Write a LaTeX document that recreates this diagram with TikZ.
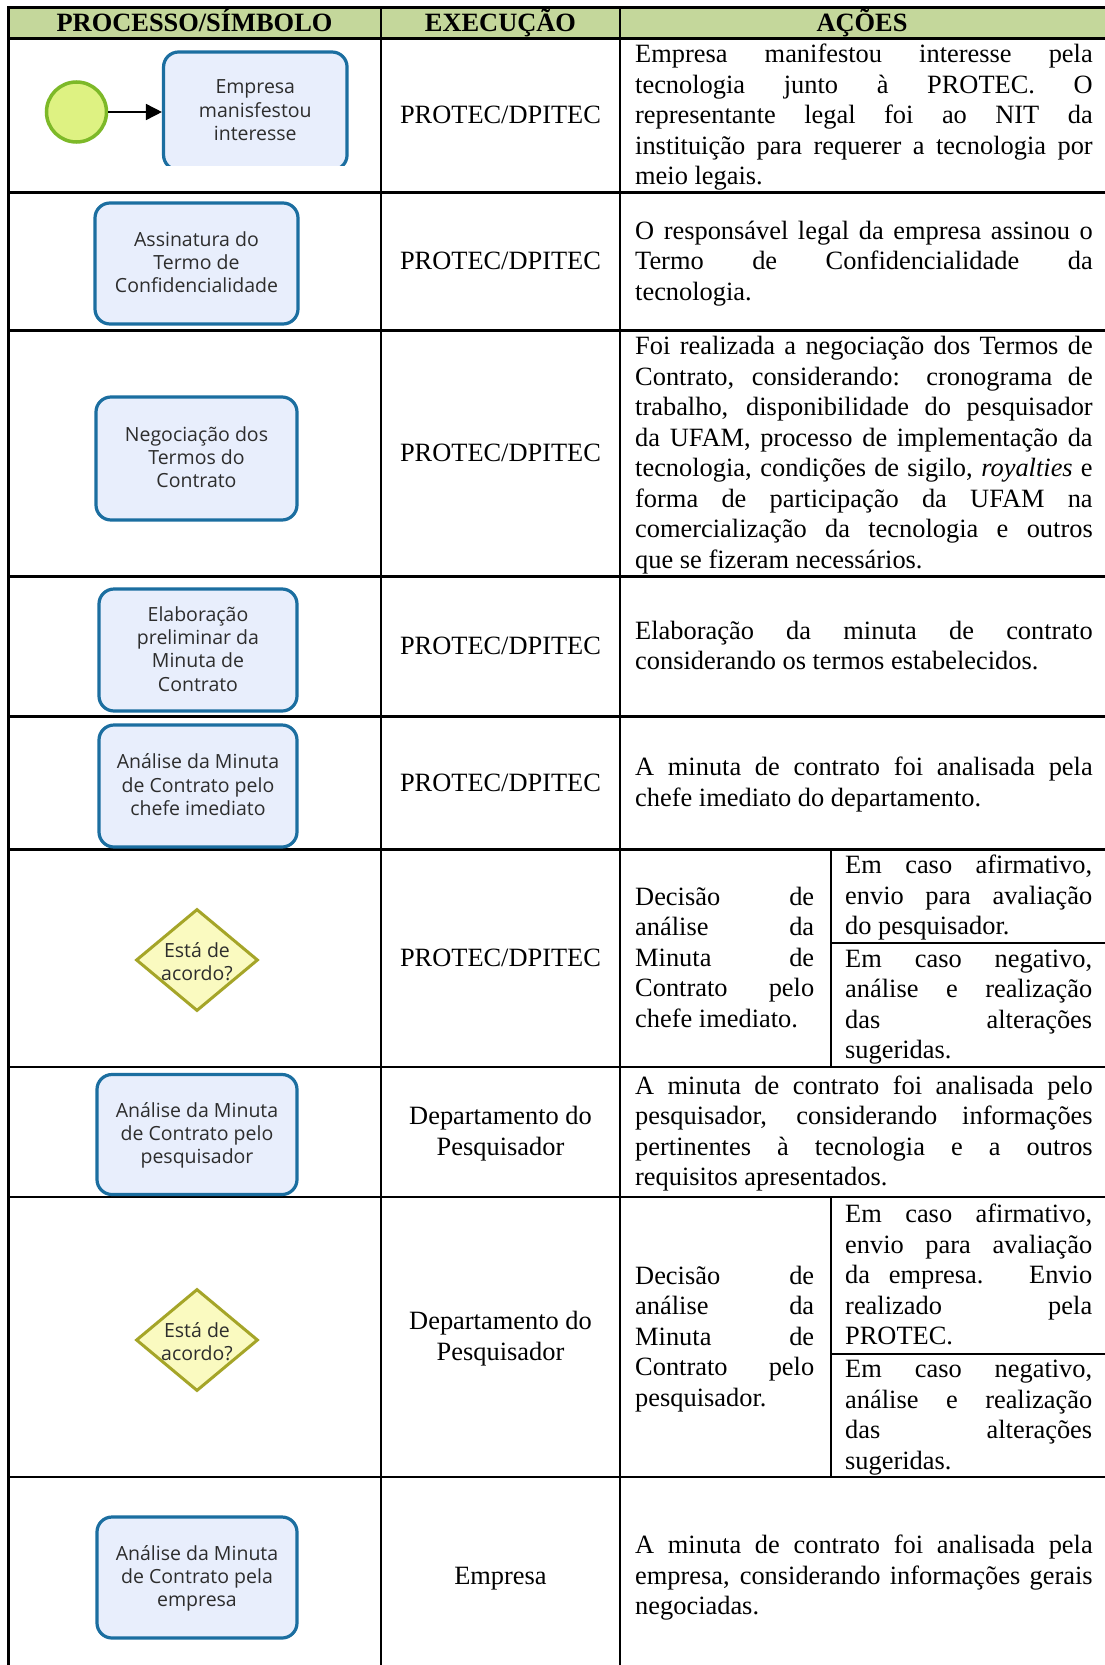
\documentclass[tikz,border=0pt]{standalone}
\usepackage{fontspec}
\setmainfont{Liberation Serif}
\newfontfamily\bpmnfont{Open Sans}
\usetikzlibrary{shapes.geometric,arrows.meta}
\definecolor{hdrfill}{RGB}{196,215,155}
\definecolor{taskborder}{RGB}{27,110,160}
\definecolor{taskfill}{RGB}{232,238,252}
\definecolor{boxtext}{RGB}{45,45,45}
\definecolor{gwborder}{RGB}{165,165,40}
\definecolor{gwfill}{RGB}{250,250,192}
\definecolor{stborder}{RGB}{125,185,40}
\definecolor{stfill}{RGB}{222,242,130}
\newlength\wA \setlength\wA{457.5pt}
\newlength\wB \setlength\wB{179pt}
\newlength\wC \setlength\wC{247pt}
\newcommand\st{\rule[-7.2pt]{0pt}{30.5pt}}
\newcommand\bs{\rule[-5.6pt]{0pt}{23.3pt}}
\newcommand\J[2]{\makebox[#1][s]{\st#2}}
\begin{document}
\begin{tikzpicture}[x=1pt,y=-1pt,
  tline/.style={line width=2.5pt, black, line cap=rect},
  cell/.style={inner sep=0pt, font=\fontsize{26.4}{30.5}\selectfont, align=left, anchor=west},
  exe/.style={inner sep=0pt, font=\fontsize{26.4}{30.5}\selectfont, align=center},
  hdr/.style={inner sep=0pt, font=\fontsize{26.4}{30.5}\selectfont\bfseries},
  task/.style={draw=taskborder, fill=taskfill, line width=3.2pt, rounded corners=15pt, inner sep=0pt,
    font=\bpmnfont\fontsize{19.5}{23.3}\selectfont, text=boxtext, align=center},
  gateway/.style={diamond, draw=gwborder, fill=gwfill, line width=3pt, minimum width=122pt, minimum height=102pt, inner sep=0pt},
  gwtext/.style={inner sep=0pt, font=\bpmnfont\fontsize{19.5}{23.3}\selectfont, text=boxtext, align=center},
  startev/.style={circle, draw=stborder, fill=stfill, line width=3.5pt, minimum size=60pt, inner sep=0pt},
  flow/.style={line width=1.6pt, black, -{Triangle[length=16pt,width=16pt]}}
]
\useasboundingbox (0,0) rectangle (1105,1665);
\fill[white] (0,0) rectangle (1105,1665);
\fill[hdrfill] (8.5,7.5) rectangle (1105,38.5);

% table grid
\foreach \yy in {7.5,38.5,192.5,330.5,576.5,716.5,849.5,1067,1197,1477}
  \draw[tline] (8.5,\yy) -- (1105,\yy);
\foreach \xx in {8.5,381,620}
  \draw[tline] (\xx,7.5) -- (\xx,1665);
\draw[tline] (831,849.5) -- (831,1067);
\draw[tline] (831,1197) -- (831,1477);
\draw[tline] (831,943) -- (1105,943);
\draw[tline] (831,1354) -- (1105,1354);

% header
\node[hdr] (h1) at (194.5,23) {\st PROCESSO/SÍMBOLO};
\node[hdr] (h2) at (500.5,23) {\st EXECUÇÃO};
\node[hdr] (h3) at (862,23) {\st AÇÕES};

% execution column
\node[exe] (e1) at (500.5,115.5) {\st PROTEC/DPITEC};
\node[exe] (e2) at (500.5,261.5) {\st PROTEC/DPITEC};
\node[exe] (e3) at (500.5,453.5) {\st PROTEC/DPITEC};
\node[exe] (e4) at (500.5,646.5) {\st PROTEC/DPITEC};
\node[exe] (e5) at (500.5,783) {\st PROTEC/DPITEC};
\node[exe] (e6) at (500.5,958.25) {\st PROTEC/DPITEC};
\node[exe] (e7) at (500.5,1132) {\st Departamento do\\\st Pesquisador};
\node[exe] (e8) at (500.5,1337) {\st Departamento do\\\st Pesquisador};
\node[exe] (e9) at (500.5,1576) {\st Empresa};

% actions column
\node[cell] (a1) at (635,115.5) {\J{\wA}{Empresa manifestou interesse pela}\\
  \J{\wA}{tecnologia junto à PROTEC. O}\\
  \J{\wA}{representante legal foi ao NIT da}\\
  \J{\wA}{instituição para requerer a tecnologia por}\\
  \st meio legais.};
\node[cell] (a2) at (635,261.5) {\J{\wA}{O responsável legal da empresa assinou o}\\
  \J{\wA}{Termo de Confidencialidade da}\\
  \st tecnologia.};
\node[cell] (a3) at (635,453.5) {\J{\wA}{Foi realizada a negociação dos Termos de}\\
  \J{\wA}{Contrato, considerando: cronograma de}\\
  \J{\wA}{trabalho, disponibilidade do pesquisador}\\
  \J{\wA}{da UFAM, processo de implementação da}\\
  \J{\wA}{tecnologia, condições de sigilo, \textit{royalties} e}\\
  \J{\wA}{forma de participação da UFAM na}\\
  \J{\wA}{comercialização da tecnologia e outros}\\
  \st que se fizeram necessários.};
\node[cell] (a4) at (635,646.5) {\J{\wA}{Elaboração da minuta de contrato}\\
  \st considerando os termos estabelecidos.};
\node[cell] (a5) at (635,783) {\J{\wA}{A minuta de contrato foi analisada pela}\\
  \st chefe imediato do departamento.};
\node[cell] (a6) at (635,958.25) {\J{\wB}{Decisão de}\\
  \J{\wB}{análise da}\\
  \J{\wB}{Minuta de}\\
  \J{\wB}{Contrato pelo}\\
  \st chefe imediato.};
\node[cell] (a6s) at (845,896.25) {\J{\wC}{Em caso afirmativo,}\\
  \J{\wC}{envio para avaliação}\\
  \st do pesquisador.};
\node[cell] (a6n) at (845,1005) {\J{\wC}{Em caso negativo,}\\
  \J{\wC}{análise e realização}\\
  \J{\wC}{das alterações}\\
  \st sugeridas.};
\node[cell] (a7) at (635,1132) {\J{\wA}{A minuta de contrato foi analisada pelo}\\
  \J{\wA}{pesquisador, considerando informações}\\
  \J{\wA}{pertinentes à tecnologia e a outros}\\
  \st requisitos apresentados.};
\node[cell] (a8) at (635,1337) {\J{\wB}{Decisão de}\\
  \J{\wB}{análise da}\\
  \J{\wB}{Minuta de}\\
  \J{\wB}{Contrato pelo}\\
  \st pesquisador.};
\node[cell] (a8s) at (845,1275.5) {\J{\wC}{Em caso afirmativo,}\\
  \J{\wC}{envio para avaliação}\\
  \J{\wC}{da empresa. Envio}\\
  \J{\wC}{realizado pela}\\
  \st PROTEC.};
\node[cell] (a8n) at (845,1415.5) {\J{\wC}{Em caso negativo,}\\
  \J{\wC}{análise e realização}\\
  \J{\wC}{das alterações}\\
  \st sugeridas.};
\node[cell] (a9) at (635,1576) {\J{\wA}{A minuta de contrato foi analisada pela}\\
  \J{\wA}{empresa, considerando informações gerais}\\
  \st negociadas.};

% process column symbols
\begin{scope}
  \clip (0,40) rectangle (380,165);
  \node[task, minimum width=183.5pt, minimum height=118pt] (b1) at (255.3,111)
    {\bs Empresa\\\bs manisfestou\\\bs interesse};
\end{scope}
\node[startev] (s1) at (76.5,112) {};
\draw[flow] (s1) -- (b1.west |- s1);

\node[task, minimum width=203pt, minimum height=121pt] (b2) at (196.5,263.5)
  {\bs Assinatura do\\\bs Termo de\\\bs Confidencialidade};
\node[task, minimum width=201pt, minimum height=123pt] (b3) at (196.5,458.5)
  {\bs Negociação dos\\\bs Termos do\\\bs Contrato};
\node[task, minimum width=198pt, minimum height=122pt] (b4) at (198,650)
  {\bs Elaboração\\\bs preliminar da\\\bs Minuta de\\\bs Contrato};
\node[task, minimum width=198pt, minimum height=122pt] (b5) at (198,786)
  {\bs Análise da Minuta\\\bs de Contrato pelo\\\bs chefe imediato};
\node[gateway] (g1) at (197,960) {};
\node[gwtext] (g1t) at (197,963) {\bs Está de\\\bs acordo?};
\node[task, minimum width=200pt, minimum height=120pt] (b7) at (197,1134.5)
  {\bs Análise da Minuta\\\bs de Contrato pelo\\\bs pesquisador};
\node[gateway] (g2) at (197,1340) {};
\node[gwtext] (g2t) at (197,1343) {\bs Está de\\\bs acordo?};
\node[task, minimum width=200pt, minimum height=121pt] (b9) at (197,1577.5)
  {\bs Análise da Minuta\\\bs de Contrato pela\\\bs empresa};
\end{tikzpicture}
\end{document}
